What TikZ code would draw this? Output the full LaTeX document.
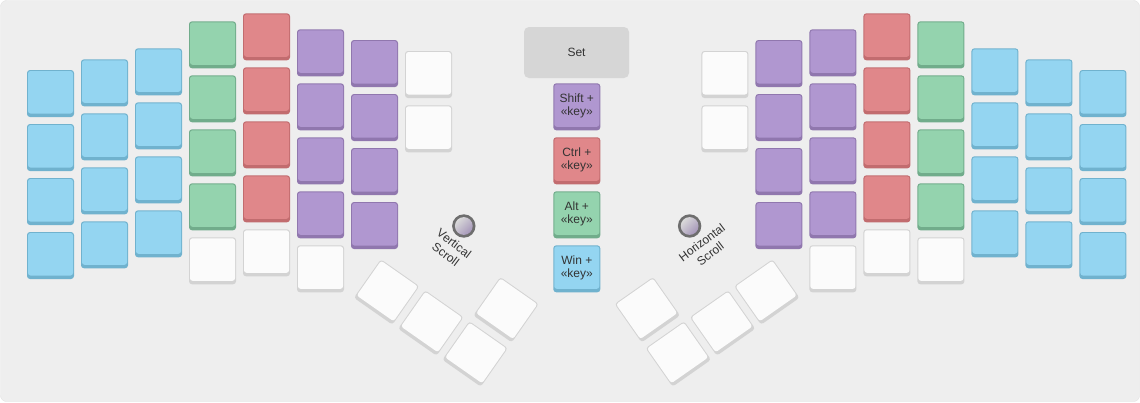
\documentclass[tikz,border=0pt]{standalone}
\usepackage{fontspec}
\setmainfont{Liberation Sans}
\definecolor{bgc}{HTML}{EEEEEE}
\definecolor{bgline}{HTML}{E2E2E2}
\definecolor{kbluF}{HTML}{94D5F1}
\definecolor{kbluE}{HTML}{70B2CE}
\definecolor{kgrnF}{HTML}{94D3AE}
\definecolor{kgrnE}{HTML}{71AC8B}
\definecolor{kredF}{HTML}{E0878A}
\definecolor{kredE}{HTML}{C26C6F}
\definecolor{kpurF}{HTML}{B097D0}
\definecolor{kpurE}{HTML}{9077AE}
\definecolor{kwhtF}{HTML}{FBFBFB}
\definecolor{kwhtE}{HTML}{D3D3D3}
\definecolor{setc}{HTML}{D6D6D6}
\definecolor{txtc}{HTML}{333333}
\definecolor{knobring}{HTML}{6E6E6E}
\definecolor{knobA}{HTML}{DADADA}
\definecolor{knobB}{HTML}{A596B9}
\newcommand\kk[3]{%
  \fill[#3E, rounded corners=3pt] (#1,#2) rectangle ++(47,47);
  \fill[#3F, rounded corners=2.5pt] (#1+1,#2+1) rectangle ++(45,42.5);
}
\newcommand\halfkeys{%
  \foreach \r in {0,...,3} {\kk{27}{70+54*\r}{kblu}}
  \foreach \r in {0,...,3} {\kk{81}{59.3+54*\r}{kblu}}
  \foreach \r in {0,...,3} {\kk{135}{48.3+54*\r}{kblu}}
  \foreach \r in {0,...,3} {\kk{189}{21.3+54*\r}{kgrn}}
  \kk{189}{237.3}{kwht}
  \foreach \r in {0,...,3} {\kk{243}{13.3+54*\r}{kred}}
  \kk{243}{229.3}{kwht}
  \foreach \r in {0,...,3} {\kk{297}{29.3+54*\r}{kpur}}
  \kk{297}{245.3}{kwht}
  \foreach \r in {0,...,3} {\kk{351}{40+54*\r}{kpur}}
  \kk{405}{51}{kwht}
  \kk{405}{105.3}{kwht}
  \begin{scope}[shift={(386.6,292)}, rotate=-35]
    \kk{-23.5}{-23.5}{kwht}
    \kk{30.5}{-23.5}{kwht}
    \kk{84.5}{-23.5}{kwht}
    \kk{84.5}{-77.5}{kwht}
  \end{scope}
  \fill[knobring] (463.8,226) circle (11.7pt);
  \shade[top color=knobA, bottom color=knobB, shading angle=45] (463.8,226) circle (8.9pt);
}
\tikzset{
  keytext/.style={text=txtc, align=center, inner sep=0pt,
    font=\fontsize{12}{12.5}\selectfont},
  lbl/.style={text=txtc, align=center, inner sep=0pt,
    font=\fontsize{12}{14}\selectfont}
}
\begin{document}
\begin{tikzpicture}[x=1pt,y=-1pt]
\useasboundingbox (0,0) rectangle (1140,402);
\fill[bgc, draw=bgline, rounded corners=6pt] (0.5,0.5) rectangle (1139.5,401.5);
% left half
\halfkeys
% right half (mirror)
\begin{scope}[shift={(1153.4,0)}, xscale=-1]
\halfkeys
\end{scope}
% center
\fill[setc, rounded corners=5pt] (524,27) rectangle (629,78);
\node[keytext] (setk) at (576.5,52.5) {Set};
\kk{553.3}{83.3}{kpur}
\kk{553.3}{137.3}{kred}
\kk{553.3}{191.3}{kgrn}
\kk{553.3}{245.3}{kblu}
\node[keytext] (shiftk) at (576.8,105.8) {Shift +\\«key»};
\node[keytext] (ctrlk) at (576.8,159.8) {Ctrl +\\«key»};
\node[keytext] (altk) at (576.8,213.8) {Alt +\\«key»};
\node[keytext] (wink) at (576.8,267.8) {Win +\\«key»};
% knob labels
\node[lbl, rotate=-37] (vlab) at (450,249) {Vertical\\Scroll};
\node[lbl, rotate=37] (hlab) at (706,248) {Horizontal\\Scroll};
\end{tikzpicture}
\end{document}
